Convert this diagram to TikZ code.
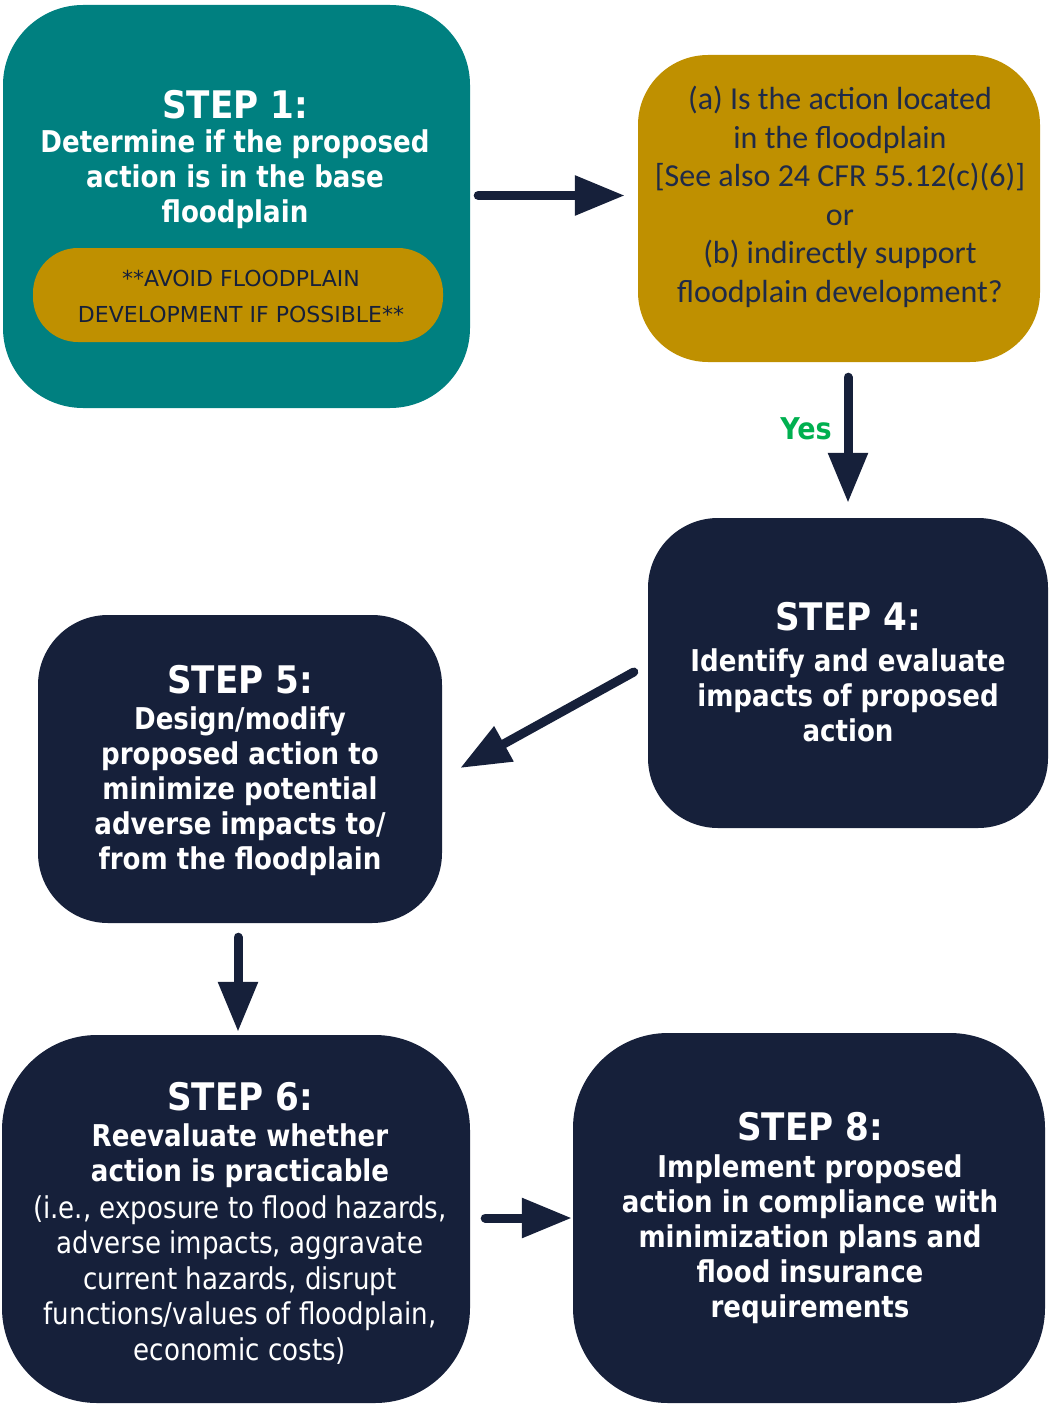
\documentclass[tikz,border=0pt]{standalone}
\usepackage{fontspec}
\usetikzlibrary{arrows.meta}
\newfontfamily\tahfont[FakeStretch=0.87]{DejaVu Sans}
\newfontfamily\tahtfont[FakeStretch=0.9]{DejaVu Sans}
\newfontfamily\tahrfont{DejaVu Sans}
\newfontfamily\calfont{Carlito}
\definecolor{teal1}{HTML}{008080}
\definecolor{gold1}{HTML}{BF9000}
\definecolor{navy1}{HTML}{16203A}
\definecolor{goldtext}{HTML}{1F2A48}
\definecolor{yesgreen}{HTML}{00B050}
\begin{document}
\begin{tikzpicture}[x=1pt,y=-1pt,
  boxshape/.style={inner sep=0pt, draw=none},
  ttl/.style={text=white, inner sep=0pt, font=\tahtfont\bfseries\fontsize{38}{42}\selectfont},
  bdy/.style={text=white, align=center, inner sep=0pt, font=\tahfont\bfseries\fontsize{30}{35}\selectfont},
  bdyr/.style={text=white, align=center, inner sep=0pt, font=\tahfont\fontsize{30}{35.5}\selectfont},
  arr/.style={draw=navy1, line width=9pt, line cap=round, -{Triangle[length=50pt,width=38pt]}}]
\useasboundingbox (0,0) rectangle (1050,1405);

% boxes
\node[boxshape, fill=teal1, rounded corners=80pt, minimum width=467pt, minimum height=403pt] (s1) at (236.5,206.5) {};
\node[boxshape, fill=gold1, rounded corners=45pt, minimum width=410pt, minimum height=94pt] (avoid) at (238,295) {};
\node[boxshape, fill=gold1, rounded corners=70pt, minimum width=402pt, minimum height=307pt] (q) at (839,208.5) {};
\node[boxshape, fill=navy1, rounded corners=70pt, minimum width=400pt, minimum height=310pt] (s4) at (848,673) {};
\node[boxshape, fill=navy1, rounded corners=70pt, minimum width=404pt, minimum height=308pt] (s5) at (240,769) {};
\node[boxshape, fill=navy1, rounded corners=95pt, minimum width=468pt, minimum height=368pt] (s6) at (236,1219) {};
\node[boxshape, fill=navy1, rounded corners=95pt, minimum width=472pt, minimum height=370pt] (s8) at (809,1218) {};

% texts
\node[ttl] (t1) at (235,105) {STEP 1:};
\node[bdy] (b1) at (235,179) {Determine if the proposed\\action is in the base\\floodplain};
\node[inner sep=0pt, align=center, text=navy1, font=\tahrfont\fontsize{22}{36}\selectfont] (avt) at (241,296) {**AVOID FLOODPLAIN\\DEVELOPMENT IF POSSIBLE**};
\node[inner sep=0pt, align=center, text=goldtext, font=\calfont\fontsize{32}{38.5}\selectfont] (qt) at (840,197) {(a) Is the action located\\in the floodplain\\{[}See also 24 CFR 55.12(c)(6){]}\\or\\(b) indirectly support\\floodplain development?};
\node[inner sep=0pt, text=yesgreen, font=\tahtfont\bfseries\fontsize{30}{32}\selectfont] (yes) at (806,429) {Yes};
\node[ttl] (t4) at (848,617) {STEP 4:};
\node[bdy] (b4) at (848,695) {Identify and evaluate\\impacts of proposed\\action};
\node[ttl] (t5) at (240,680) {STEP 5:};
\node[bdy] (b5) at (240,791) {Design/modify\\proposed action to\\minimize potential\\adverse impacts to/\\from the floodplain};
\node[ttl] (t6) at (240,1097) {STEP 6:};
\node[bdy] (b6a) at (240,1156) {Reevaluate whether\\action is practicable};
\node[bdyr] (b6b) at (240,1280) {(i.e., exposure to flood hazards,\\adverse impacts, aggravate\\current hazards, disrupt\\functions/values of floodplain,\\economic costs)};
\node[ttl] (t8) at (810,1127) {STEP 8:};
\node[bdy] (b8) at (810,1239) {Implement proposed\\action in compliance with\\minimization plans and\\flood insurance\\requirements};

% arrows
\draw[arr] ([shift={(8,-11)}]s1.east) -- ([shift={(-13,-13)}]q.west);
\draw[arr] ([shift={(9,15)}]q.south) -- ([shift={(0,-15)}]s4.north);
\draw[arr] ([shift={(-14,-1)}]s4.west) -- ([shift={(18,-1)}]s5.east);
\draw[arr] ([shift={(-2,14)}]s5.south) -- ([shift={(2,-3)}]s6.north);
\draw[arr] ([shift={(15,-1)}]s6.east) -- ([shift={(-1,0)}]s8.west);
\end{tikzpicture}
\end{document}
